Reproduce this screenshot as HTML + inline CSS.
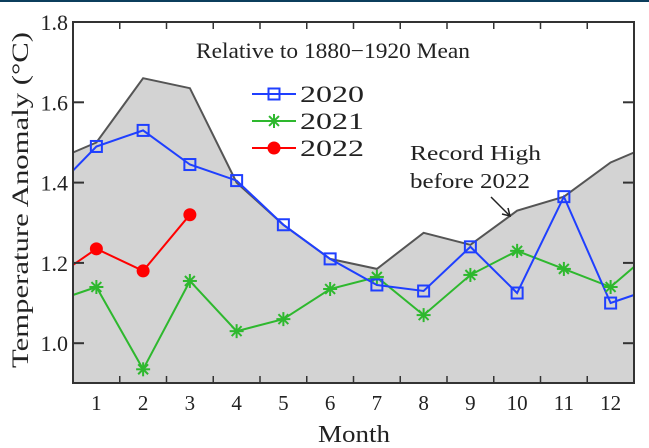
<!DOCTYPE html>
<html><head><meta charset="utf-8"><style>
body{margin:0;background:#fff;}
svg{display:block;font-family:"Liberation Serif",serif;}
</style></head><body>
<svg id="s" width="649" height="448" xmlns="http://www.w3.org/2000/svg">
<rect x="0" y="0" width="649" height="2" fill="#0b3d5c"/>
<g id="g"></g>
<text x="196" y="58" font-size="22" textLength="274" lengthAdjust="spacingAndGlyphs" fill="#222">Relative to 1880−1920 Mean</text>
<text x="410" y="160" font-size="21" textLength="131" lengthAdjust="spacingAndGlyphs" fill="#222">Record High</text>
<text x="410" y="188" font-size="21" textLength="120" lengthAdjust="spacingAndGlyphs" fill="#222">before 2022</text>
<line x1="491" y1="197" x2="509" y2="215" stroke="#222" stroke-width="1.5"/>
<path d="M502,214 L510,216 L508,208" fill="none" stroke="#222" stroke-width="1.5"/>
<text x="318" y="442" font-size="24" textLength="72" lengthAdjust="spacingAndGlyphs" fill="#222">Month</text>
<text transform="translate(28,200) rotate(-90)" font-size="23" text-anchor="middle" textLength="336" lengthAdjust="spacingAndGlyphs" fill="#222">Temperature Anomaly (°C)</text>
</svg>
<script>
var X=m=>73+(m-0.5)*46.75, Y=v=>22+(1.8-v)*401.5;
var g=document.getElementById('g'), h='';
function pts(a){return a.map(p=>X(p[0]).toFixed(1)+','+Y(p[1]).toFixed(1)).join(' ');}
var rec=[[0.5,1.475],[1,1.50],[2,1.66],[3,1.635],[4,1.40],[5,1.295],[6,1.21],[7,1.185],[8,1.275],[9,1.245],[10,1.33],[11,1.365],[12,1.45],[12.5,1.475]];
h+='<polygon points="'+pts(rec)+' 634,383 73,383" fill="#d3d3d3"/>';
h+='<polyline points="'+pts(rec)+'" fill="none" stroke="#555" stroke-width="2"/>';
var a20=[[0.5,1.43],[1,1.49],[2,1.53],[3,1.445],[4,1.405],[5,1.295],[6,1.21],[7,1.145],[8,1.13],[9,1.24],[10,1.125],[11,1.365],[12,1.10],[12.5,1.12]];
var a21=[[0.5,1.12],[1,1.14],[2,0.935],[3,1.155],[4,1.03],[5,1.06],[6,1.135],[7,1.165],[8,1.07],[9,1.17],[10,1.23],[11,1.185],[12,1.14],[12.5,1.19]];
var a22=[[0.5,1.195],[1,1.235],[2,1.18],[3,1.32]];
function sq(x,y){return '<rect x="'+(x-5.5)+'" y="'+(y-5.5)+'" width="11" height="11" fill="none" stroke="#1f3fff" stroke-width="2"/>';}
function st(x,y,c){var s='';for(var i=0;i<4;i++){var an=i*Math.PI/4,dx=7*Math.cos(an),dy=7*Math.sin(an);s+='<line x1="'+(x-dx)+'" y1="'+(y-dy)+'" x2="'+(x+dx)+'" y2="'+(y+dy)+'" stroke="'+c+'" stroke-width="2"/>';}return s;}
function ci(x,y){return '<circle cx="'+x+'" cy="'+y+'" r="6.5" fill="#f00"/>';}
h+='<polyline points="'+pts(a21)+'" fill="none" stroke="#2eb82e" stroke-width="2"/>';
h+='<polyline points="'+pts(a20)+'" fill="none" stroke="#1f3fff" stroke-width="2"/>';
h+='<polyline points="'+pts(a22)+'" fill="none" stroke="#f00" stroke-width="2"/>';
a21.forEach(p=>{if(p[0]%1==0)h+=st(X(p[0]),Y(p[1]),'#2eb82e');});
a20.forEach(p=>{if(p[0]%1==0)h+=sq(X(p[0]),Y(p[1]));});
a22.forEach(p=>{if(p[0]%1==0)h+=ci(X(p[0]),Y(p[1]));});
h+='<rect x="73" y="22" width="561" height="361" fill="none" stroke="#333" stroke-width="2"/>';
for(var m=1;m<=12;m++){var x=X(m+0.5);if(m<12){h+='<line x1="'+x+'" y1="383" x2="'+x+'" y2="376" stroke="#333" stroke-width="1.5"/><line x1="'+x+'" y1="22" x2="'+x+'" y2="29" stroke="#333" stroke-width="1.5"/>';}
h+='<text x="'+X(m)+'" y="410" font-size="21" text-anchor="middle" fill="#222">'+m+'</text>';}
[1.0,1.2,1.4,1.6,1.8].forEach(v=>{var y=Y(v);h+='<line x1="73" y1="'+y+'" x2="84" y2="'+y+'" stroke="#333" stroke-width="2"/><line x1="623" y1="'+y+'" x2="634" y2="'+y+'" stroke="#333" stroke-width="2"/><text x="68" y="'+(y+8)+'" font-size="22" text-anchor="end" fill="#222">'+v.toFixed(1)+'</text>';});
h+='<line x1="252" y1="94" x2="296" y2="94" stroke="#1f3fff" stroke-width="2"/>'+sq(274,94)+'<text x="300" y="102" font-size="23" textLength="64" lengthAdjust="spacingAndGlyphs" fill="#222">2020</text>';
h+='<line x1="252" y1="121" x2="296" y2="121" stroke="#2eb82e" stroke-width="2"/>'+st(274,121,'#2eb82e')+'<text x="300" y="129" font-size="23" textLength="64" lengthAdjust="spacingAndGlyphs" fill="#222">2021</text>';
h+='<line x1="252" y1="148" x2="296" y2="148" stroke="#f00" stroke-width="2"/>'+ci(274,148)+'<text x="300" y="156" font-size="23" textLength="64" lengthAdjust="spacingAndGlyphs" fill="#222">2022</text>';
g.innerHTML=h;
</script>
</body></html>
